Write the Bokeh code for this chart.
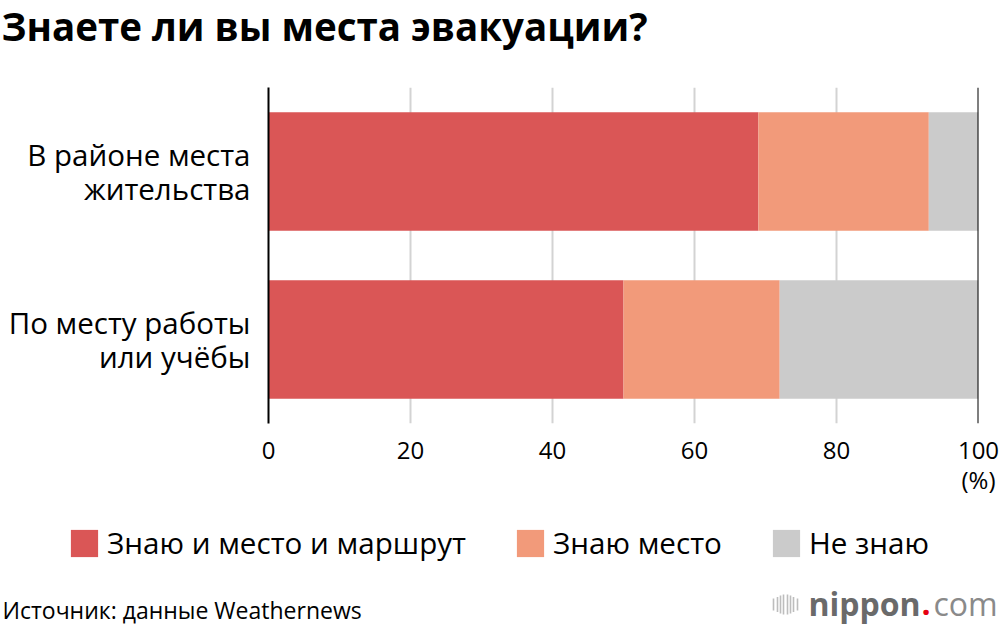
from bokeh.plotting import figure
from bokeh.models import (ColumnDataSource, FactorRange, FixedTicker, Legend,
                          LegendItem, Span, Range1d)
from bokeh.layouts import column
from bokeh.core.properties import value
from bokeh.embed import file_html
from bokeh.resources import INLINE

# ---- data ----
categories = ["В районе места\nжительства", "По месту работы\nили учёбы"]
series_names = ["Знаю и место и маршрут", "Знаю место", "Не знаю"]
know_both = [69, 50]
know_place = [24, 22]
dont_know = [7, 28]
x_ticks = [0, 20, 40, 60, 80, 100]
x_unit = "(%)"
colors = ["#DA5656", "#F29A7A", "#CBCBCB"]
title_text = "Знаете ли вы места эвакуации?"
source_text = "Источник: данные Weathernews"

FONT = "Open Sans"
W = 1000


def blank(height, y0, y1):
    f = figure(width=W, height=height, output_backend="svg", toolbar_location=None,
               x_range=Range1d(0, W), y_range=Range1d(y1, y0),
               min_border=0, min_border_left=0, min_border_right=0,
               min_border_top=0, min_border_bottom=0, frame_align=False)
    f.axis.visible = False
    f.grid.grid_line_color = None
    f.outline_line_color = None
    return f


# ---- header ----
head = blank(87, 0, 87)
head.text(x=[1], y=[25], text=[title_text], text_font=value(FONT), text_font_style="bold",
          text_font_size="38.5px", text_color="black", text_baseline="alphabetic")

# ---- main chart ----
source = ColumnDataSource(dict(cat=categories, a=know_both, b=know_place, c=dont_know))

p = figure(width=W, height=413, output_backend="svg", toolbar_location=None,
           x_range=(0, 100), y_range=FactorRange(factors=categories[::-1]),
           min_border_left=268, min_border_right=22, min_border_top=0, min_border_bottom=77,
           frame_align=False)
p.outline_line_color = None

rs = p.hbar_stack(["a", "b", "c"], y="cat", height=0.705, color=colors, line_color=None,
                  source=source)

p.xaxis.ticker = FixedTicker(ticks=x_ticks)
p.xaxis.major_label_overrides = {x_ticks[-1]: f"{x_ticks[-1]}\n{x_unit}"}
p.xaxis.axis_line_color = None
p.xaxis.major_tick_line_color = None
p.xaxis.minor_tick_line_color = None
p.xaxis.major_tick_out = 0
p.xaxis.major_label_text_font = FONT
p.xaxis.major_label_text_font_size = "24px"
p.xaxis.major_label_text_color = "black"
p.xaxis.major_label_text_line_height = 0.93
p.xaxis.major_label_standoff = 9

p.yaxis.axis_line_color = "black"
p.yaxis.axis_line_width = 2
p.yaxis.major_tick_line_color = None
p.yaxis.minor_tick_line_color = None
p.yaxis.major_tick_out = 0
p.yaxis.major_label_text_font = FONT
p.yaxis.major_label_text_font_size = "29.5px"
p.yaxis.major_label_text_color = "black"
p.yaxis.major_label_text_line_height = 0.85
p.yaxis.major_label_standoff = 18

p.xgrid.grid_line_color = "#d3d3d3"
p.xgrid.grid_line_width = 2
p.ygrid.grid_line_color = None

p.add_layout(Span(location=x_ticks[-1], dimension="height", line_color="black", line_width=2))

# ---- footer ----
foot = blank(130, 500, 630)
# swatch renderers for the legend, kept outside the visible range
dummies = [foot.hbar(y=[565], left=[5000], right=[5001], height=1, color=c, line_color=None)
           for c in colors]
legend = Legend(items=[LegendItem(label=n, renderers=[r]) for n, r in zip(series_names, dummies)],
                orientation="horizontal", location=(67, 67),
                glyph_width=34, glyph_height=34, label_standoff=6, spacing=47,
                padding=0, margin=0, border_line_alpha=0, background_fill_alpha=0,
                label_text_font=FONT, label_text_font_size="29.6px", label_text_color="black")
foot.add_layout(legend, "center")

foot.text(x=[2], y=[609], text=[source_text], text_font=value(FONT), text_font_size="23px",
          text_color="black", text_baseline="alphabetic")

# nippon.com logo
foot.text(x=[808], y=[603], text=["nippon"], text_font=value(FONT), text_font_style="bold",
          text_font_size="32px", text_color="#6a6a6a", text_baseline="alphabetic")
foot.text(x=[921], y=[603], text=["."], text_font=value(FONT), text_font_style="bold",
          text_font_size="32px", text_color="#E60012", text_baseline="alphabetic")
foot.text(x=[933], y=[603], text=["com"], text_font=value(FONT),
          text_font_size="32px", text_color="#8a8a8a", text_baseline="alphabetic")
icon_x = [773, 777, 780, 783, 787, 790, 793, 797]
icon_h = [12, 15, 18, 20, 20, 18, 15, 12]
foot.segment(x0=icon_x, x1=icon_x, y0=[604 - h / 2 for h in icon_h],
             y1=[604 + h / 2 for h in icon_h], line_color="#bdbdbd", line_width=1.6)

layout = column(head, p, foot, spacing=0)
open("out.html", "w").write(file_html(layout, INLINE))
